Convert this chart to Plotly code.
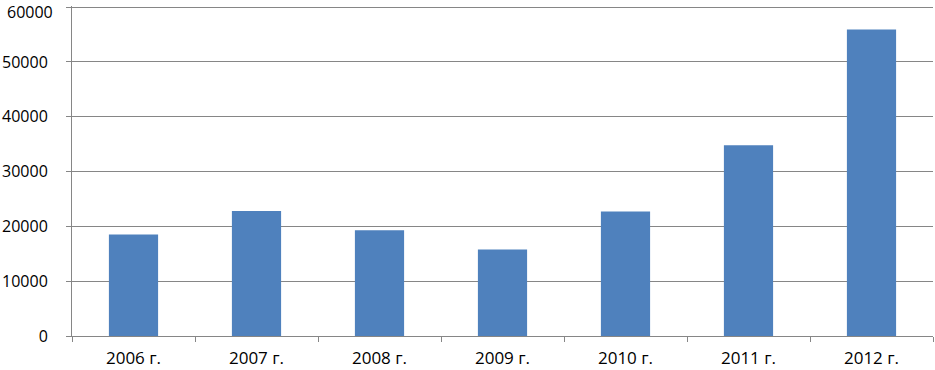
import plotly.graph_objects as go

categories = ["2006 г.", "2007 г.", "2008 г.", "2009 г.", "2010 г.", "2011 г.", "2012 г."]
values = [18500, 22800, 19300, 15800, 22700, 34800, 55900]
y_ticks = [0, 10000, 20000, 30000, 40000, 50000, 60000]

fig = go.Figure(go.Bar(x=categories, y=values, marker=dict(color="#4F81BD", line=dict(width=0))))

fig.update_layout(
    width=935, height=370,
    margin=dict(l=72, r=2, t=6, b=34),
    paper_bgcolor="white", plot_bgcolor="white",
    bargap=0.6,
    showlegend=False,
    font=dict(family="Open Sans", size=17, color="black"),
)
fig.update_xaxes(
    automargin=False,
    showline=True, linecolor="#868686", linewidth=1,
    ticks="outside", tickson="boundaries", ticklen=5, tickcolor="#868686",
    showgrid=False, ticklabelstandoff=7,
)
fig.update_yaxes(
    automargin=False,
    range=[0, 60200], tickvals=y_ticks, ticktext=[str(v) for v in y_ticks],
    tickfont=dict(size=16),
    showline=True, linecolor="#868686", linewidth=1,
    ticks="outside", ticklen=5, tickcolor="#868686",
    showgrid=True, gridcolor="#868686", gridwidth=1,
    zeroline=False, ticklabelstandoff=15,
)
# top tick label (plotly hides it because it overflows the page edge)
fig.add_annotation(
    x=0, xref="paper", y=1, yref="paper", text=str(y_ticks[-1]),
    showarrow=False, xanchor="right", yanchor="top", xshift=-18, yshift=6,
    borderpad=0,
    font=dict(family="Open Sans", size=16, color="black"),
)

fig.write_html(
    "out.html",
    config={"displayModeBar": False},
    post_script="document.body.style.margin='0';document.body.style.overflow='hidden';",
)
